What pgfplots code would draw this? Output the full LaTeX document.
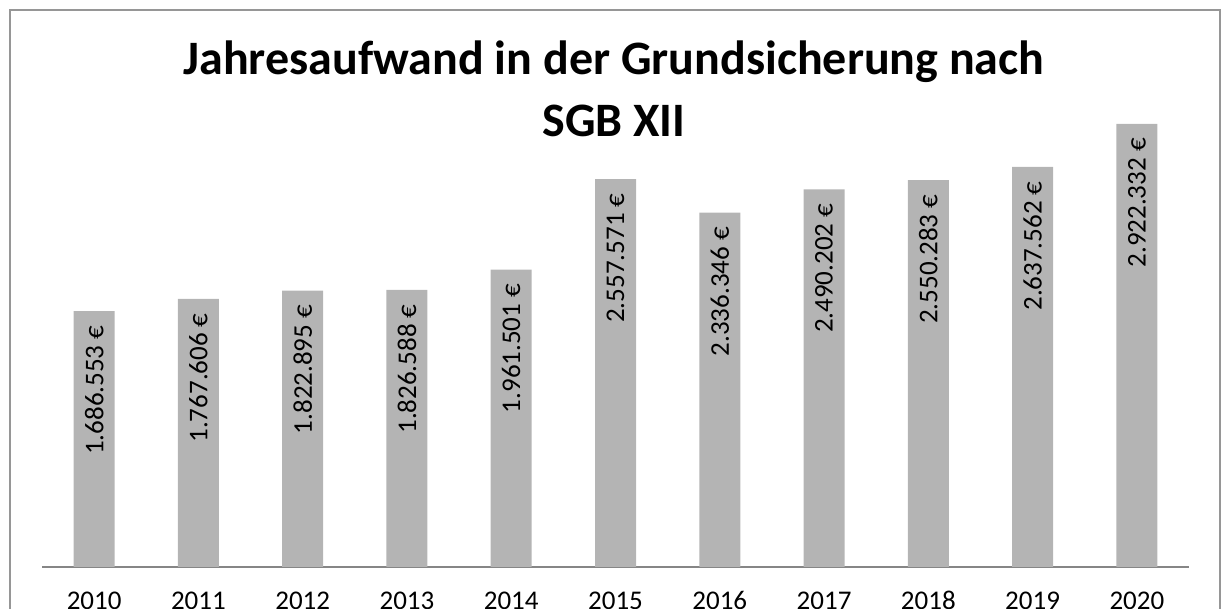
\documentclass[border=0pt]{standalone}
\usepackage{fontspec}
\setmainfont{Carlito}
\usepackage{pgfplots}
\usepackage{pgfplotstable}
\pgfplotsset{compat=1.18}

\definecolor{bargray}{RGB}{180,180,180}
\definecolor{framegray}{RGB}{150,150,150}
\definecolor{axisgray}{RGB}{134,134,134}

% Jahresaufwand (Euro) je Jahr
\pgfplotstableread[col sep=comma]{
x,y,label
0,1686553,1.686.553 €
1,1767606,1.767.606 €
2,1822895,1.822.895 €
3,1826588,1.826.588 €
4,1961501,1.961.501 €
5,2557571,2.557.571 €
6,2336346,2.336.346 €
7,2490202,2.490.202 €
8,2550283,2.550.283 €
9,2637562,2.637.562 €
10,2922332,2.922.332 €
}\aufwand

\begin{document}
\begin{tikzpicture}[x=0.5pt,y=0.5pt]
\useasboundingbox (0,0) rectangle (1221,609);
\clip (0,0) rectangle (1221,609);
% chart frame, bottom edge is cut off
\draw[framegray, line width=0.6pt] (10,-20) -- (10,599) -- (1220,599) -- (1220,-20);

\node[font=\fontsize{24}{28}\selectfont\bfseries, anchor=base, inner sep=0pt] at (614,534) {Jahresaufwand in der Grundsicherung nach};
\node[font=\fontsize{24}{28}\selectfont\bfseries, anchor=base, inner sep=0pt] at (614,472) {SGB XII};

\begin{axis}[
    at={(21pt,21pt)}, anchor=south west,
    scale only axis,
    width=573.5pt, height=265.4pt,
    xmin=-0.5, xmax=10.5,
    ymin=0, ymax=3500000,
    axis x line*=bottom,
    axis y line=none,
    x axis line style={axisgray, line width=0.6pt, -},
    xtick={0,...,10},
    xticklabels={2010,2011,2012,2013,2014,2015,2016,2017,2018,2019,2020},
    major tick length=0pt,
    xticklabel style={font=\fontsize{13.5}{16}\selectfont, anchor=base, yshift=-21.5pt},
    ytick=\empty,
    clip=false,
]
\addplot[
    ybar, bar width=20.5pt, fill=bargray, draw=none,
    point meta=explicit symbolic,
    nodes near coords,
    every node near coord/.append style={
        font=\fontsize{13.5}{16}\selectfont, rotate=90, anchor=east, inner sep=7pt, text=black},
] table[x=x, y=y, meta=label] {\aufwand};
\end{axis}
\end{tikzpicture}
\end{document}
